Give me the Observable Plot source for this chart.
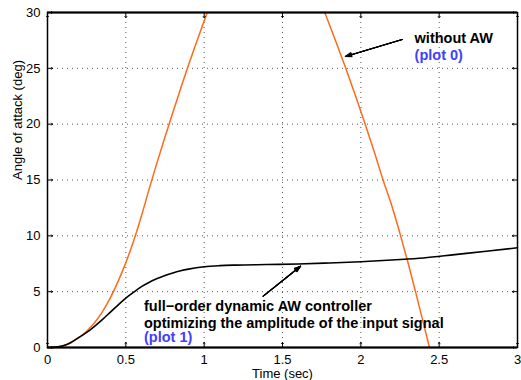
<!DOCTYPE html>
<html>
<head>
<meta charset="utf-8">
<script src="https://cdn.jsdelivr.net/npm/d3@7"></script>
<script src="https://cdn.jsdelivr.net/npm/@observablehq/plot@0.6"></script>
<style>
  html, body { margin: 0; padding: 0; background: #fff; }
  #chart svg { display: block; }
</style>
</head>
<body>
<div id="chart"></div>
<script>
// ---- data ----
const xTicks = [0, 0.5, 1, 1.5, 2, 2.5, 3];
const xTickLabels = ["0", "0.5", "1", "1.5", "2", "2.5", "3"];
const yTicks = [0, 5, 10, 15, 20, 25, 30];
const yTickLabels = ["0", "5", "10", "15", "20", "25", "30"];

// plot 1: full-order dynamic AW controller (black)
const awTime = [0, 0.05, 0.1, 0.15, 0.2, 0.25, 0.3, 0.35, 0.4, 0.45, 0.5, 0.55, 0.6, 0.65, 0.7, 0.75, 0.8, 0.85, 0.9, 1.0, 1.1, 1.2, 1.4, 1.6, 1.8, 2.0, 2.2, 2.4, 2.6, 2.8, 3.0];
const awAngle = [0, 0.03, 0.15, 0.45, 0.9, 1.35, 1.9, 2.5, 3.15, 3.8, 4.42, 4.95, 5.45, 5.85, 6.17, 6.45, 6.68, 6.87, 7.02, 7.23, 7.33, 7.38, 7.43, 7.48, 7.57, 7.68, 7.84, 8.02, 8.32, 8.62, 8.93];

// plot 0: without AW (orange), rising part and falling part (clipped at 30)
const noAwRiseTime = [0, 0.05, 0.1, 0.15, 0.2, 0.25, 0.3, 0.35, 0.4, 0.45, 0.5, 0.55, 0.6, 0.65, 0.7, 0.75, 0.8, 0.85, 0.9, 0.95, 1.0, 1.02];
const noAwRiseAngle = [0, 0.03, 0.15, 0.45, 0.88, 1.46, 2.21, 3.19, 4.42, 5.9, 7.6, 9.55, 11.8, 14.25, 16.6, 18.85, 21.05, 23.2, 25.3, 27.3, 29.25, 30];
const noAwFallTime = [1.77, 1.838, 1.904, 1.967, 2.028, 2.086, 2.142, 2.202, 2.254, 2.303, 2.349, 2.394, 2.438];
const noAwFallAngle = [30, 27.5, 25, 22.5, 20, 17.5, 15, 12.5, 10, 7.5, 5, 2.5, 0];

// annotations (data coordinates)
const labelNoAW = ["without AW", "(plot 0)"];
const labelNoAWPos = [[2.343, 27.25], [2.343, 25.79]];
const labelAW = ["full\u2212order dynamic AW controller", "optimizing the amplitude of the input signal", "(plot 1)"];
const labelAWPos = [[0.616, 3.31], [0.616, 1.77], [0.616, 0.45]];
const arrowNoAW = {x1: 2.264, y1: 27.58, x2: 1.902, y2: 26.06};
const arrowAW = {x1: 1.377, y1: 4.60, x2: 1.615, y2: 7.28};

const xLabel = "Time (sec)";
const yLabel = "Angle of attack (deg)";

// ---- tables built from the arrays ----
const awData = awTime.map((t, i) => ({t, a: awAngle[i]}));
const riseData = noAwRiseTime.map((t, i) => ({t, a: noAwRiseAngle[i], seg: "rise"}));
const fallData = noAwFallTime.map((t, i) => ({t, a: noAwFallAngle[i], seg: "fall"}));
const noAwData = riseData.concat(fallData);

const blackText = labelNoAW.slice(0, 1).map((s, i) => ({s, x: labelNoAWPos[i][0], y: labelNoAWPos[i][1]}))
  .concat(labelAW.slice(0, 2).map((s, i) => ({s, x: labelAWPos[i][0], y: labelAWPos[i][1]})));
const blueText = [
  {s: labelNoAW[1], x: labelNoAWPos[1][0], y: labelNoAWPos[1][1]},
  {s: labelAW[2], x: labelAWPos[2][0], y: labelAWPos[2][1]}
];
const arrows = [arrowNoAW, arrowAW];

const gridStyle = {stroke: "#555", strokeWidth: 1, strokeDasharray: "1,4"};
const orange = "#ff6a1a";
const blue = "#4040ff";

const headMarks = [38, 28, 18, 8].map(angle =>
  Plot.arrow(arrows, {x1: "x1", y1: "y1", x2: "x2", y2: "y2", stroke: "black", strokeWidth: 1.2, headLength: 8, headAngle: angle}));

const chart = Plot.plot({
  width: 521,
  height: 380,
  marginLeft: 47,
  marginRight: 4,
  marginTop: 12,
  marginBottom: 33,
  style: {fontFamily: "'Liberation Sans', Arial, Helvetica, sans-serif", fontSize: "13px", background: "#fff", color: "#000", overflow: "visible"},
  x: {domain: [0, 3], nice: false},
  y: {domain: [0, 30], nice: false},
  marks: [
    Plot.ruleX(xTicks.slice(1, -1), {x: d => d, ...gridStyle}),
    Plot.ruleY(yTicks.slice(1, -1), {y: d => d, ...gridStyle}),
    Plot.line(noAwData, {x: "t", y: "a", z: "seg", stroke: orange, strokeWidth: 1.5, curve: "monotone-x"}),
    Plot.line(awData, {x: "t", y: "a", stroke: "#000", strokeWidth: 1.6, curve: "monotone-x"}),
    // inward ticks on all four sides
    Plot.vector(xTicks, {x: d => d, y: 0, length: 5, rotate: 0, anchor: "start", stroke: "#000", strokeWidth: 1}),
    Plot.vector(xTicks, {x: d => d, y: 30, length: 5, rotate: 180, anchor: "start", stroke: "#000", strokeWidth: 1}),
    Plot.vector(yTicks, {x: 0, y: d => d, length: 5, rotate: 90, anchor: "start", stroke: "#000", strokeWidth: 1}),
    Plot.vector(yTicks, {x: 3, y: d => d, length: 5, rotate: 270, anchor: "start", stroke: "#000", strokeWidth: 1}),
    Plot.frame({stroke: "#000", strokeWidth: 1.5}),
    Plot.ruleY([0, 30], {y: d => d, stroke: "#000", strokeWidth: 2.2}),
    Plot.axisX(xTicks, {tickSize: 0, tickPadding: 7, tickFormat: d => xTickLabels[xTicks.indexOf(d)], label: null, fontSize: 13}),
    Plot.axisY(yTicks, {tickSize: 0, tickPadding: 7, tickFormat: d => yTickLabels[yTicks.indexOf(d)], label: null, fontSize: 13}),
    Plot.text([xLabel], {frameAnchor: "bottom", dy: 30.5, lineAnchor: "bottom", fontSize: 13, fill: "#000"}),
    Plot.text([yLabel], {frameAnchor: "left", dx: -25.5, rotate: -90, lineAnchor: "bottom", fontSize: 13, fill: "#000"}),
    ...headMarks,
    Plot.text(blackText, {x: "x", y: "y", text: "s", textAnchor: "start", lineAnchor: "bottom", fontWeight: "bold", fontSize: 14.5, fill: "#000"}),
    Plot.text(blueText, {x: "x", y: "y", text: "s", textAnchor: "start", lineAnchor: "bottom", fontWeight: "bold", fontSize: 14.5, fill: blue})
  ]
});
document.getElementById("chart").appendChild(chart);
</script>
</body>
</html>
